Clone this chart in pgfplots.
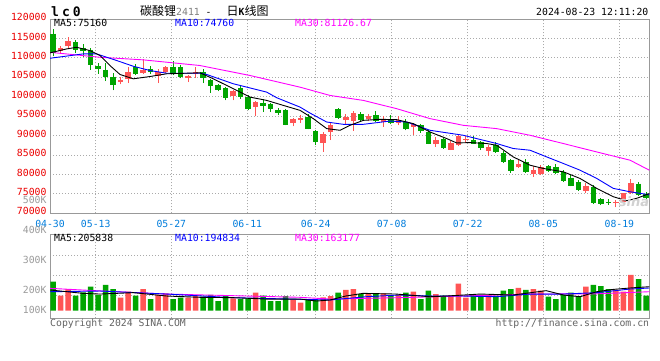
\documentclass[border=0pt]{standalone}
\usepackage{fontspec}
\setmainfont{DejaVu Sans}
\setmonofont{DejaVu Sans Mono}
\newfontfamily\cjk{Noto Sans CJK SC}
\usepackage{pgfplots}
\usepackage{pgfplotstable}
\pgfplotsset{compat=1.18}
\definecolor{cred}{RGB}{255,85,85}
\definecolor{cgreen}{RGB}{0,165,0}
\definecolor{bordergray}{RGB}{153,153,153}
\definecolor{gridgray}{RGB}{170,170,170}
\definecolor{dateblue}{RGB}{0,125,220}
\definecolor{tickred}{RGB}{235,0,0}
\definecolor{volgray}{RGB}{155,155,155}
\definecolor{footgray}{RGB}{100,100,100}
\definecolor{mablue}{RGB}{0,0,255}
\definecolor{mamag}{RGB}{255,0,255}
\newcommand\tf{\fontsize{9.8}{10}\selectfont\ttfamily}

% i open high low close volume
\pgfplotstableread{
i o h l c v
1 111740 113020 111360 112510 129000
2 112970 115460 112640 114250 186000
9 103740 105200 103150 104300 112000
10 104440 107590 103480 106480 163000
12 106150 109690 105970 106870 186000
14 105460 107180 103490 106300 135000
15 106300 108020 106100 107770 149000
18 104770 105590 103740 105280 112000
19 105900 107770 104770 106300 135000
24 100150 101610 99050 101360 106000
27 97330 98790 94950 98610 155000
32 93230 94430 92380 94180 92000
33 94100 95200 93230 94610 69000
36 88200 90850 85790 90330 115000
37 90920 93150 88800 92820 126000
39 93920 95460 92820 94770 178000
40 93740 96230 91180 95790 186000
42 94350 95640 93660 94950 143000
44 93490 95030 92210 94100 149000
46 93230 94950 92640 93920 135000
48 92210 93150 90080 92900 163000
51 87770 89640 87080 88800 143000
53 86410 88540 86230 88100 129000
54 87510 90330 87260 89820 232000
55 88800 89820 88100 89230 112000
58 86050 87690 84770 87080 135000
62 81790 84100 81610 82640 195000
64 80000 82130 79380 81100 186000
65 80000 82380 79820 81790 172000
71 75790 77690 75280 77080 206000
75 72900 73410 71540 73030 178000
76 72970 75280 72900 75130 163000
77 75130 78720 74950 77690 307000
}\redtab

\pgfplotstableread{
i o h l c v
0 116230 117510 110410 111280 249000
3 114050 114560 111360 112000 129000
4 112640 113540 110330 111740 158000
5 112050 112510 107000 108280 206000
6 107840 108720 105970 107180 135000
7 107000 108790 104000 105030 221000
8 105200 106230 101610 102900 186000
11 107640 108460 105560 105970 129000
13 107180 108020 105970 106300 100000
16 107770 109300 105710 105890 100000
17 107590 108200 104690 105080 112000
20 106300 107180 103480 104870 120000
21 104180 104610 100920 102640 135000
22 102900 103330 101360 101610 83000
23 102200 102380 99050 99640 129000
25 102200 102640 99490 99890 100000
26 100050 100330 96480 96740 106000
28 98360 99310 96050 97510 129000
29 98020 98360 96050 96920 83000
30 96670 97000 95200 95790 83000
31 96490 96920 92640 92820 126000
34 94770 95640 91610 91790 100000
35 91100 91360 87690 88360 92000
38 96740 97080 94300 94510 155000
41 95460 96050 93660 93920 143000
43 95200 96230 93540 93740 143000
45 94100 95200 92900 93230 129000
47 93490 94350 91360 91610 155000
49 92640 93080 90770 91100 100000
50 90920 91540 87770 87950 172000
52 89050 89380 86620 86820 129000
56 88800 90000 87770 87950 143000
57 88360 88670 86230 86820 129000
59 87690 88360 85590 85790 129000
60 85640 85970 82970 83230 172000
61 83670 84100 80410 80920 186000
63 83080 83850 80460 80670 178000
66 82130 82380 80590 80850 120000
67 81950 82560 80000 80260 100000
68 80670 81100 78020 78280 135000
69 79050 79820 76900 77000 155000
70 78100 78670 75720 75980 120000
72 76820 77260 72380 72560 221000
73 73670 73850 72130 72380 212000
74 72970 73590 72130 72770 186000
78 77640 77950 74440 74690 272000
79 74950 75460 73670 73920 129000
}\greentab

\pgfplotstableread{
x y
-0.4 111280
1.83 112310
3.16 112720
4.93 111870
6.26 110590
7.59 108020
8.93 105720
10.7 104610
12.92 105200
15.15 105900
19.58 106150
21.36 104610
24.02 102050
26.25 99900
28.47 99050
30.68 97770
32.91 96490
34.68 94360
36.46 91790
38.24 91360
39.57 92640
41.34 93920
43.57 94180
45.79 94100
48.0 93080
50.23 90920
52.45 89230
53.78 88100
55.56 88200
57.78 87950
59.11 87510
61.32 84510
63.55 82380
65.32 81540
67.99 80670
70.21 78970
72.44 76410
74.65 74260
76.43 73230
77.76 73850
79.44 75080
}\mafive

\pgfplotstableread{
x y
-0.4 109900
4.04 111020
5.82 111020
8.49 109310
10.7 107840
12.92 106740
15.15 106050
19.58 106050
20.48 105720
24.02 103330
28.47 101180
29.8 99740
32.91 97330
34.24 95790
36.46 93490
38.68 92900
41.34 92900
44.9 93740
47.12 93490
50.23 91360
54.66 90080
59.11 87950
61.32 86670
63.55 86230
65.77 84510
67.99 82820
70.21 81100
72.44 78970
74.65 76410
76.87 75540
79.44 74770
}\maten

\pgfplotstableread{
x y
-0.4 111430
6.26 110150
11.99 109490
19.58 108030
26.25 105460
32.91 102460
36.9 100330
41.34 99050
45.79 96920
50.23 94360
54.66 92640
59.11 91790
63.55 90080
67.99 87950
72.44 85790
76.87 83670
79.44 81100
}\mathirty

\pgfplotstableread{
x y
-0.4 178000
4.0 149000
6.26 143000
10.7 155000
15.15 126000
19.58 115000
23.98 112000
28.4 100000
32.91 100000
35.1 83000
36.9 92000
39.0 126000
41.3 149000
45.7 143000
50.23 120000
52.4 126000
56.9 143000
61.3 135000
65.7 172000
67.99 135000
70.21 120000
72.44 163000
74.65 183000
76.87 195000
79.44 206000
}\vmafive

\pgfplotstableread{
x y
-0.4 163000
6.26 169000
15.15 143000
23.98 112000
32.91 98000
36.9 92000
41.7 120000
46.2 135000
50.23 126000
54.6 126000
59.11 120000
63.55 143000
67.99 143000
72.44 155000
76.87 186000
79.44 195000
}\vmaten

\pgfplotstableread{
x y
-0.4 192000
6.26 170000
15.15 143000
23.98 129000
32.91 115000
36.9 100000
46.2 112000
54.6 126000
63.55 143000
72.44 145000
79.44 163000
}\vmathirty

\begin{document}
\begin{tikzpicture}
\fill[white] (0,0) rectangle (660pt,360pt);
\useasboundingbox (0,0) rectangle (660pt,360pt);

% ---------- price panel ----------
\begin{axis}[
  at={(50pt,146.7pt)}, anchor=south west,
  scale only axis, width=599.3pt, height=194.3pt,
  xmin=-0.4, xmax=79.44, ymin=70000, ymax=120000,
  axis line style={draw=bordergray, line width=1pt},
  ytick={70000,75000,80000,85000,90000,95000,100000,105000,110000,115000,120000},
  yticklabels={70000,75000,80000,85000,90000,95000,100000,105000,110000,115000,120000},
  xtick={-0.4,5.69,15.76,25.89,35.0,45.12,55.25,65.32,75.45},
  xticklabels={04-30,05-13,05-27,06-11,06-24,07-08,07-22,08-05,08-19},
  scaled y ticks=false,
  major tick length=0pt,
  grid=major,
  major grid style={draw=gridgray, line width=0.8pt, dash pattern=on 1pt off 2pt},
  /pgf/number format/assume math mode=true,
  tick label style={font=\tf},
  yticklabel style={text=tickred, yshift=2pt},
  xticklabel style={text=dateblue, anchor=center, yshift=-10.7pt},
]
\addplot[cgreen, line width=1pt, quiver={u=0,v=\thisrow{h}-\thisrow{l}}] table[x=i,y=l]{\greentab};
\addplot[cred, line width=1pt, quiver={u=0,v=\thisrow{h}-\thisrow{l}}] table[x=i,y=l]{\redtab};
\addplot[cgreen, line width=5.5pt, quiver={u=0,v=\thisrow{c}-\thisrow{o}}] table[x=i,y=o]{\greentab};
\addplot[cred, line width=5.5pt, quiver={u=0,v=\thisrow{c}-\thisrow{o}}] table[x=i,y=o]{\redtab};
\addplot[mamag, line width=0.9pt] table[x=x,y=y]{\mathirty};
\addplot[mablue, line width=0.9pt] table[x=x,y=y]{\maten};
\addplot[black, line width=0.9pt] table[x=x,y=y]{\mafive};
\end{axis}

% ---------- volume panel ----------
\begin{axis}[
  at={(50pt,41.7pt)}, anchor=south west,
  scale only axis, width=599.3pt, height=84pt,
  xmin=-0.4, xmax=79.44, ymin=-65300, ymax=656100,
  axis line style={draw=bordergray, line width=1pt},
  xtick={5.69,15.76,25.89,35.0,45.12,55.25,65.32,75.45},
  xticklabels={},
  ytick={128800,300600,472300},
  yticklabels={},
  scaled y ticks=false,
  major tick length=0pt,
  grid=major,
  major grid style={draw=gridgray, line width=0.8pt, dash pattern=on 1pt off 2pt},
]
\addplot[ybar, bar width=5.5pt, bar shift=0pt, fill=cred, draw=none] table[x=i,y=v]{\redtab};
\addplot[ybar, bar width=5.5pt, bar shift=0pt, fill=cgreen, draw=none] table[x=i,y=v]{\greentab};
\addplot[mamag, line width=0.9pt] table[x=x,y=y]{\vmathirty};
\addplot[mablue, line width=0.9pt] table[x=x,y=y]{\vmaten};
\addplot[black, line width=0.9pt] table[x=x,y=y]{\vmafive};
\end{axis}

% ---------- texts ----------
\node[anchor=base west, inner sep=0] at (51pt,344pt)
  {\fontsize{13}{13}\selectfont\ttfamily\bfseries l\hspace{3pt}c\hspace{3pt}0};
\node[anchor=base west, inner sep=0] at (140pt,345pt)
  {{\fontsize{12}{12}\selectfont\cjk 碳酸锂}{\tf\color{gray}2411}{\tf\hspace{5.9pt}-\hspace{15pt}}{\fontsize{12}{12}\selectfont\cjk 日}{\tf\bfseries K}{\fontsize{12}{12}\selectfont\cjk 线图}};
\node[anchor=base east, inner sep=0, font=\tf] at (648.5pt,345pt) {2024-08-23 12:11:20};

\node[anchor=base west, inner sep=0, font=\tf, text=black] at (54pt,333.5pt) {MA5:75160};
\node[anchor=base west, inner sep=0, font=\tf, text=mablue] at (175pt,333.5pt) {MA10:74760};
\node[anchor=base west, inner sep=0, font=\tf, text=mamag] at (295pt,333.5pt) {MA30:81126.67};

\node[anchor=base west, inner sep=0, font=\tf, text=black] at (54pt,119pt) {MA5:205838};
\node[anchor=base west, inner sep=0, font=\tf, text=mablue] at (175pt,119pt) {MA10:194834};
\node[anchor=base west, inner sep=0, font=\tf, text=mamag] at (295pt,119pt) {MA30:163177};

\node[anchor=base east, inner sep=0, font=\tf, text=volgray] at (46.7pt,156.7pt) {500K};
\node[anchor=base east, inner sep=0, font=\tf, text=volgray] at (46.7pt,126.7pt) {400K};
\node[anchor=base east, inner sep=0, font=\tf, text=volgray] at (46.7pt,96.7pt) {300K};
\node[anchor=base east, inner sep=0, font=\tf, text=volgray] at (46.7pt,66.7pt) {200K};
\node[anchor=base east, inner sep=0, font=\tf, text=volgray] at (46.7pt,46.7pt) {100K};

\node[anchor=center, inner sep=0, text=black!18] at (634pt,158pt) {\fontsize{13}{13}\selectfont\itshape\bfseries sina};

\node[anchor=base west, inner sep=0, font=\tf, text=footgray] at (50pt,34pt) {Copyright 2024 SINA.COM};
\node[anchor=base east, inner sep=0, font=\tf, text=footgray] at (649.3pt,34pt) {http://finance.sina.com.cn};
\end{tikzpicture}
\end{document}
